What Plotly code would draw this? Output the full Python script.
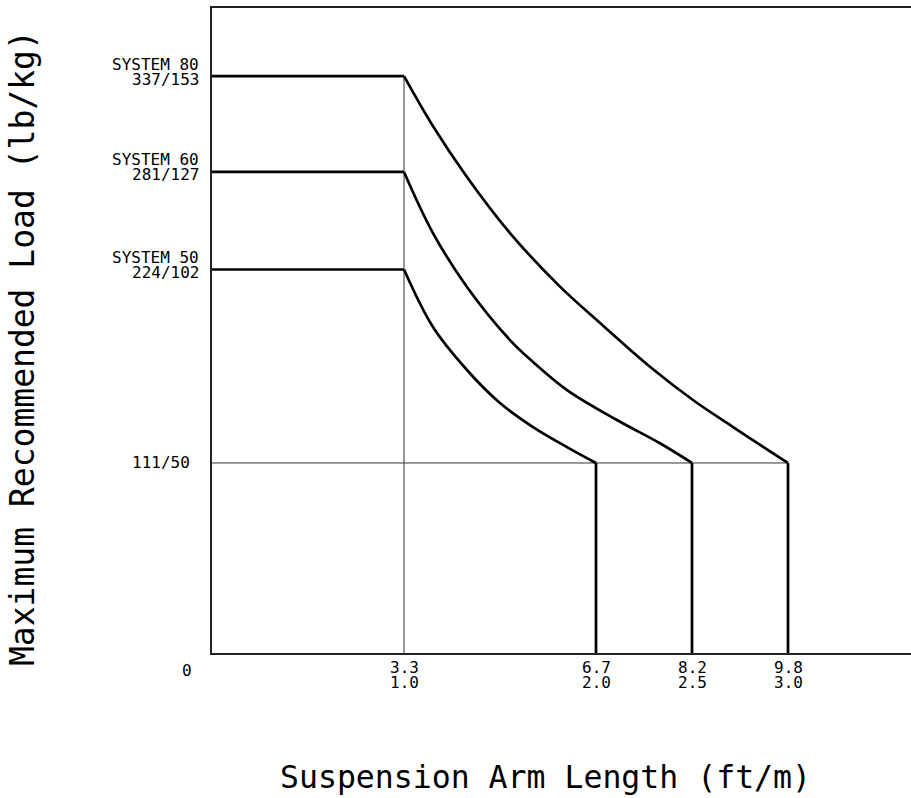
import plotly.graph_objects as go

# ---------------- data ----------------
x_tick_m = [1.0, 2.0, 2.5, 3.0]
x_tick_ft_text = ["3.3", "6.7", "8.2", "9.8"]
x_tick_m_text = ["1.0", "2.0", "2.5", "3.0"]

systems = ["SYSTEM 80", "SYSTEM 60", "SYSTEM 50"]
max_load_lb = [337, 281, 224]
max_load_text = ["337/153", "281/127", "224/102"]
min_load_lb = 111
min_load_text = "111/50"
full_load_arm_m = 1.0
max_arm_m = [3.0, 2.5, 2.0]

curve80_x = [1.0, 1.153, 1.327, 1.552, 1.8125, 2.021, 2.281, 2.505, 2.714, 3.0]
curve80_y = [337, 307.4, 278.2, 245.3, 214.0, 192.8, 167.2, 147.8, 132.0, 111]
curve60_x = [1.0, 1.151, 1.328, 1.552, 1.672, 1.849, 2.109, 2.333, 2.5]
curve60_y = [281, 245.3, 213.8, 182.8, 170.0, 153.6, 136.1, 122.5, 111]
curve50_x = [1.0, 1.151, 1.328, 1.5, 1.672, 1.849, 2.0]
curve50_y = [224, 190.4, 165.3, 146.0, 132.0, 120.3, 111]
curves_x = [curve80_x, curve60_x, curve50_x]
curves_y = [curve80_y, curve60_y, curve50_y]

x_title = "Suspension Arm Length (ft/m)"
y_title = "Maximum Recommended Load (lb/kg)"

# ---------------- figure ----------------
FONT = "DejaVu Sans Mono"
thick = dict(color="black", width=2.7)
thin = dict(color="#333333", width=1)

fig = go.Figure()

# reference lines
fig.add_trace(go.Scatter(x=[full_load_arm_m, full_load_arm_m], y=[0, max(max_load_lb)],
                         mode="lines", line=thin, hoverinfo="skip"))
fig.add_trace(go.Scatter(x=[0, max(max_arm_m)], y=[min_load_lb, min_load_lb],
                         mode="lines", line=thin, hoverinfo="skip"))

for i in range(len(systems)):
    fig.add_trace(go.Scatter(x=[0, full_load_arm_m], y=[max_load_lb[i], max_load_lb[i]],
                             mode="lines", line=thick, name=systems[i]))
    fig.add_trace(go.Scatter(x=curves_x[i], y=curves_y[i], mode="lines",
                             line=dict(color="black", width=2.7, shape="spline", smoothing=1.0),
                             name=systems[i]))
    fig.add_trace(go.Scatter(x=[max_arm_m[i], max_arm_m[i]], y=[min_load_lb, 0],
                             mode="lines", line=thick, name=systems[i]))

ann = []
tick_font = dict(family=FONT, size=16, color="black")
for i in range(len(systems)):
    ann.append(dict(x=0, xref="paper", y=max_load_lb[i], yref="y", text=systems[i],
                    showarrow=False, xanchor="right", yanchor="middle",
                    xshift=-11, yshift=12, font=tick_font))
    ann.append(dict(x=0, xref="paper", y=max_load_lb[i], yref="y", text=max_load_text[i],
                    showarrow=False, xanchor="right", yanchor="middle",
                    xshift=-11, yshift=-3, font=tick_font))
ann.append(dict(x=0, xref="paper", y=min_load_lb, yref="y", text=min_load_text,
                showarrow=False, xanchor="right", yanchor="middle",
                xshift=-20, yshift=0, font=tick_font))
ann.append(dict(x=0, xref="paper", y=0, yref="y", text="0",
                showarrow=False, xanchor="center", yanchor="middle",
                xshift=-25, yshift=-17, font=tick_font))
for xv, t1, t2 in zip(x_tick_m, x_tick_ft_text, x_tick_m_text):
    ann.append(dict(x=xv, xref="x", y=0, yref="paper", text=t1, showarrow=False,
                    xanchor="center", yanchor="middle", yshift=-14, font=tick_font))
    ann.append(dict(x=xv, xref="x", y=0, yref="paper", text=t2, showarrow=False,
                    xanchor="center", yanchor="middle", yshift=-29, font=tick_font))

ann.append(dict(x=(545 - 212) / 699, xref="paper", y=0, yref="paper", text=x_title,
                showarrow=False, xanchor="center", yanchor="middle", yshift=-124,
                font=dict(family=FONT, size=31.5, color="black")))
ann.append(dict(x=0, xref="paper", y=(653 - 348) / 645, yref="paper", text=y_title,
                showarrow=False, xanchor="center", yanchor="middle", xshift=-190,
                textangle=-90, font=dict(family=FONT, size=33, color="black")))

fig.update_layout(
    width=911, height=798,
    margin=dict(l=212, r=0, t=8, b=145),
    plot_bgcolor="white", paper_bgcolor="white",
    showlegend=False,
    annotations=ann,
    xaxis=dict(range=[0, 699 / 192], showgrid=False, zeroline=False, showticklabels=False,
               ticks="", showline=True, linecolor="#222222", linewidth=1.5, mirror=True),
    yaxis=dict(range=[0, 645 / 1.712], showgrid=False, zeroline=False, showticklabels=False,
               ticks="", showline=True, linecolor="#222222", linewidth=1.5, mirror=False),
)

fig.write_html("out.html", config={"displayModeBar": False},
               post_script="document.body.style.margin='0';document.body.style.overflow='hidden';")
